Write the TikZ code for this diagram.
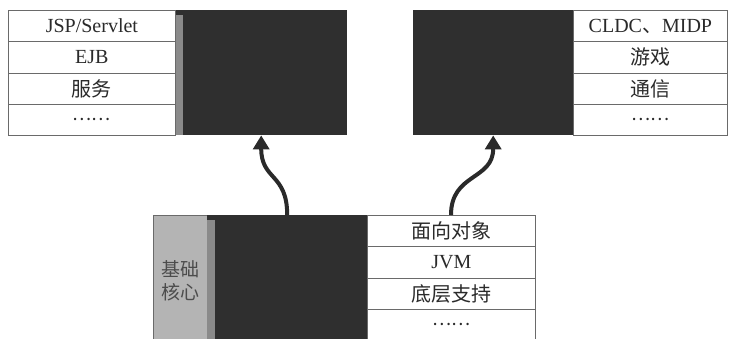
\documentclass[tikz,border=0pt]{standalone}
\usepackage{fontspec}
\setmainfont{Liberation Serif}
\newfontfamily\cjk{Noto Sans CJK SC}
\usetikzlibrary{arrows.meta}
\definecolor{darkbox}{HTML}{2F2F2F}
\definecolor{lightbox}{HTML}{B4B4B4}
\definecolor{stripc}{HTML}{8A8A8A}
\definecolor{linec}{HTML}{6A6A6A}
\definecolor{txt}{HTML}{2A2A2A}
\begin{document}
\begin{tikzpicture}[x=1pt,y=-1pt,
  cell/.style={draw=linec, line width=0.8pt, fill=white, inner sep=0pt, anchor=north west, text=txt, font=\fontsize{20}{21}\selectfont},
  dark/.style={fill=darkbox, draw=none, inner sep=0pt, anchor=north west},
  strip/.style={fill=stripc, draw=none, inner sep=0pt, anchor=north west},
  dots/.style={font=\fontsize{18}{18}\cjk},
  bigarrow/.style={line width=4pt, draw=txt, -{Triangle[width=16pt,length=14pt]}}
]
\useasboundingbox (0,0) rectangle (736,338);
\clip (0,0) rectangle (736,338);
\fill[white] (0,0) rectangle (736,338);

% top-left block
\node[dark, minimum width=172pt, minimum height=125pt] (ldark) at (175,10) {};
\node[strip, minimum width=7pt, minimum height=120pt] (lstrip) at (176,15) {};
\node[cell, minimum width=167pt, minimum height=31.25pt] (l1) at (8,10) {JSP/Servlet};
\node[cell, minimum width=167pt, minimum height=31.25pt] (l2) at (8,41.25) {EJB};
\node[cell, minimum width=167pt, minimum height=31.25pt] (l3) at (8,72.5) {\cjk 服务};
\node[cell, minimum width=167pt, minimum height=31.25pt, dots] (l4) at (8,103.75) {……};

% top-right block
\node[dark, minimum width=160pt, minimum height=125pt] (rdark) at (413,10) {};
\node[cell, minimum width=154pt, minimum height=31.25pt] (r1) at (573,10) {CLDC{\cjk 、}MIDP};
\node[cell, minimum width=154pt, minimum height=31.25pt] (r2) at (573,41.25) {\cjk 游戏};
\node[cell, minimum width=154pt, minimum height=31.25pt] (r3) at (573,72.5) {\cjk 通信};
\node[cell, minimum width=154pt, minimum height=31.25pt, dots] (r4) at (573,103.75) {……};

% bottom block
\node[cell, fill=lightbox, minimum width=54pt, minimum height=130pt, text=black!70, align=center, font=\fontsize{19}{23}\cjk] (core) at (153,215) {基础\\核心};
\node[dark, minimum width=160pt, minimum height=130pt] (bdark) at (207,215) {};
\node[strip, minimum width=8pt, minimum height=125pt] (bstrip) at (207,220) {};
\node[cell, minimum width=168pt, minimum height=31pt] (b1) at (367,215) {\cjk 面向对象};
\node[cell, minimum width=168pt, minimum height=31.5pt] (b2) at (367,246) {JVM};
\node[cell, minimum width=168pt, minimum height=31.5pt] (b3) at (367,277.5) {\cjk 底层支持};
\node[cell, minimum width=168pt, minimum height=31pt, dots] (b4) at (367,309) {……};
\coordinate (btop) at (451,215);

% arrows
\draw[bigarrow] (bdark.north) .. controls +(0,-42) and +(0,45) .. (ldark.south);
\draw[bigarrow] (btop) .. controls +(0,-42) and +(0,45) .. (rdark.south);
\end{tikzpicture}
\end{document}
